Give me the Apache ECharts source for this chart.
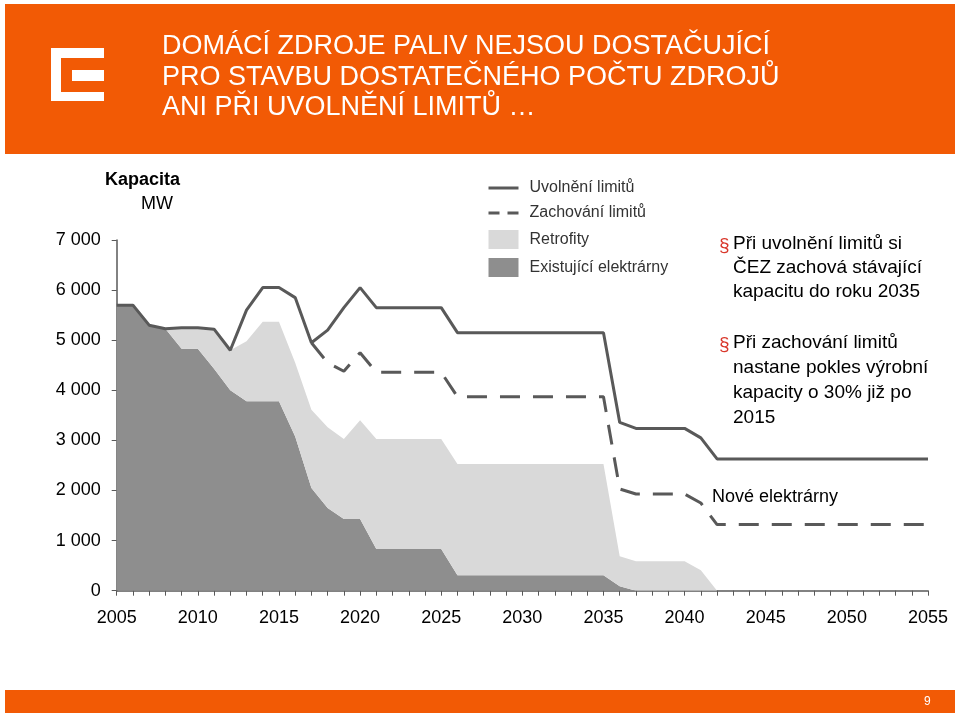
<!DOCTYPE html>
<html>
<head>
<meta charset="utf-8">
<script src="https://cdn.jsdelivr.net/npm/echarts@6/dist/echarts.min.js"></script>
<style>
  html, body { margin: 0; padding: 0; background: #fff; }
  #main { width: 959px; height: 721px; }
</style>
</head>
<body>
<div id="main"></div>
<script>
// roky 2005..2055
var years = [];
for (var y = 2005; y <= 2055; y++) years.push(String(y));

// Uvolnění limitů (MW)
var uvolneni = [
  5700, 5700, 5300, 5230, 5250, 5250, 5220, 4800, 5600, 6050, 6050,
  5850, 4950, 5200, 5650, 6050, 5650, 5650, 5650, 5650, 5650,
  5150, 5150, 5150, 5150, 5150, 5150, 5150, 5150, 5150, 5150,
  3360, 3240, 3240, 3240, 3240, 3050, 2630,
  2630, 2630, 2630, 2630, 2630, 2630, 2630, 2630, 2630, 2630, 2630, 2630, 2630
];

// Zachování limitů (MW)
var zachovani = [
  null, null, null, null, null, null, null, null, null, null, null, null,
  4950, 4550, 4380, 4750, 4360, 4360, 4360, 4360, 4360,
  3870, 3870, 3870, 3870, 3870, 3870, 3870, 3870, 3870, 3870,
  2030, 1930, 1930, 1930, 1930, 1750, 1320,
  1320, 1320, 1320, 1320, 1320, 1320, 1320, 1320, 1320, 1320, 1320, 1320, 1320
];

// Existující elektrárny (MW)
var existujici = [
  5700, 5700, 5300, 5230, 4830, 4830, 4430, 4000, 3780, 3780, 3780,
  3080, 2050, 1650, 1430, 1430, 830, 830, 830, 830, 830,
  310, 310, 310, 310, 310, 310, 310, 310, 310, 310,
  90, 0, 0, 0, 0, 0, 0,
  0, 0, 0, 0, 0, 0, 0, 0, 0, 0, 0, 0, 0
];

// Retrofity (MW, nad existujícími)
var retrofity = [
  0, 0, 0, 0, 420, 420, 790, 800, 1200, 1590, 1590,
  1470, 1560, 1610, 1600, 1970, 2200, 2200, 2200, 2200, 2200,
  2220, 2220, 2220, 2220, 2220, 2220, 2220, 2220, 2220, 2220,
  600, 590, 590, 590, 590, 410, 0,
  0, 0, 0, 0, 0, 0, 0, 0, 0, 0, 0, 0, 0
];

var FONT = "'Liberation Sans', Arial, sans-serif";
var ORANGE = "#F25A05";

var chart = echarts.init(document.getElementById("main"));

function txt(x, y, text, size, color, weight) {
  return {
    type: "text",
    x: x,
    y: y,
    silent: true,
    style: {
      text: text,
      fill: color,
      font: (weight || "normal") + " " + size + "px " + FONT,
      align: "left",
      verticalAlign: "middle",
    },
  };
}

var option = {
  animation: false,
  backgroundColor: "#fff",
  grid: { left: 116.7, right: 31, top: 240, bottom: 130.3 },
  legend: {
    orient: "vertical",
    left: 487,
    top: 180,
    padding: 0,
    itemWidth: 30,
    itemHeight: 19,
    itemGap: 9,
    textStyle: { fontFamily: FONT, fontSize: 16, color: "#333", padding: [0, 0, 0, 6] },
    data: [
      { name: "Uvolnění limitů", itemStyle: { opacity: 0 }, lineStyle: { width: 3 } },
      { name: "Zachování limitů", itemStyle: { opacity: 0 }, lineStyle: { width: 3, type: [11, 8] } },
      { name: "Retrofity", icon: "rect" },
      { name: "Existující elektrárny", icon: "rect" },
    ],
  },
  xAxis: {
    type: "category",
    data: years,
    boundaryGap: false,
    axisLine: { lineStyle: { color: "#595959", width: 1.5 } },
    axisTick: { interval: 0, length: 5, lineStyle: { color: "#595959" } },
    axisLabel: {
      interval: 4,
      margin: 18,
      fontFamily: FONT,
      fontSize: 18,
      color: "#000",
    },
    splitLine: { show: false },
  },
  yAxis: {
    type: "value",
    min: 0,
    max: 7000,
    interval: 1000,
    axisLine: { show: true, lineStyle: { color: "#595959", width: 1.5 } },
    axisTick: { show: true, length: 5, lineStyle: { color: "#595959" } },
    axisLabel: {
      margin: 16,
      fontFamily: FONT,
      fontSize: 18,
      color: "#000",
      formatter: function (v) {
        return String(v).replace(/\B(?=(\d{3})+(?!\d))/g, " ");
      },
    },
    splitLine: { show: false },
  },
  series: [
    {
      name: "Existující elektrárny",
      type: "line",
      stack: "kap",
      data: existujici,
      symbol: "none",
      color: "#8e8e8e",
      lineStyle: { width: 0 },
      areaStyle: { color: "#8e8e8e", opacity: 1 },
      z: 1,
    },
    {
      name: "Retrofity",
      type: "line",
      stack: "kap",
      data: retrofity,
      symbol: "none",
      color: "#d9d9d9",
      lineStyle: { width: 0 },
      areaStyle: { color: "#d9d9d9", opacity: 1 },
      z: 1,
    },
    {
      name: "Uvolnění limitů",
      type: "line",
      data: uvolneni,
      symbol: "none",
      color: "#595959",
      lineStyle: { width: 3, color: "#595959" },
      z: 3,
    },
    {
      name: "Zachování limitů",
      type: "line",
      data: zachovani,
      symbol: "none",
      color: "#595959",
      lineStyle: { width: 3, color: "#595959", type: [20, 13] },
      z: 3,
    },
  ],
  graphic: [
    // hlavička
    { type: "rect", silent: true, shape: { x: 5, y: 4, width: 950, height: 150 }, style: { fill: ORANGE } },
    { type: "rect", silent: true, shape: { x: 51, y: 48, width: 53, height: 53 }, style: { fill: "#fff" } },
    { type: "rect", silent: true, shape: { x: 61, y: 58, width: 43, height: 34 }, style: { fill: ORANGE } },
    { type: "rect", silent: true, shape: { x: 72, y: 70, width: 32, height: 11 }, style: { fill: "#fff" } },
    txt(162, 47, "DOMÁCÍ ZDROJE PALIV NEJSOU DOSTAČUJÍCÍ", 27, "#fff"),
    txt(162, 78, "PRO STAVBU DOSTATEČNÉHO POČTU ZDROJŮ", 27, "#fff"),
    txt(162, 108, "ANI PŘI UVOLNĚNÍ LIMITŮ …", 27, "#fff"),
    // patička
    { type: "rect", silent: true, shape: { x: 5, y: 690, width: 950, height: 23 }, style: { fill: ORANGE } },
    txt(924, 702, "9", 12, "#fff"),
    // popisky
    txt(105, 180, "Kapacita", 18, "#000", "bold"),
    txt(141, 204, "MW", 18, "#000"),
    txt(133, 517, "Existující elektrárny", 18, "#fff"),
    txt(469, 499, "Retrofity", 18, "#000"),
    txt(712, 497, "Nové elektrárny", 18, "#000"),
    // odrážky
    txt(719, 246, "§", 19, "#D9372B"),
    txt(733, 244, "Při uvolnění limitů si", 19, "#000"),
    txt(733, 268, "ČEZ zachová stávající", 19, "#000"),
    txt(733, 292, "kapacitu do roku 2035", 19, "#000"),
    txt(719, 345, "§", 19, "#D9372B"),
    txt(733, 343, "Při zachování limitů", 19, "#000"),
    txt(733, 368, "nastane pokles výrobní", 19, "#000"),
    txt(733, 393, "kapacity o 30% již po", 19, "#000"),
    txt(733, 418, "2015", 19, "#000"),
  ],
};

chart.setOption(option);
</script>
</body>
</html>
